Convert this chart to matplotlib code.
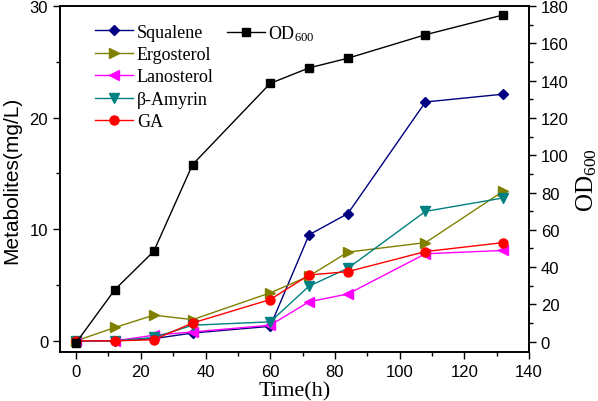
import numpy as np
import matplotlib
matplotlib.use('Agg')
import matplotlib.pyplot as plt
from matplotlib.ticker import MultipleLocator

matplotlib.rcParams['font.family'] = 'Liberation Sans'
matplotlib.rcParams['mathtext.fontset'] = 'custom'
matplotlib.rcParams['mathtext.rm'] = 'Liberation Serif'
matplotlib.rcParams['mathtext.it'] = 'Liberation Serif:italic'

time_h = [0, 12, 24, 36, 60, 72, 84, 108, 132]
squalene = [0, 0, 0.2, 0.7, 1.3, 9.5, 11.4, 21.4, 22.1]
ergosterol = [0, 1.2, 2.3, 1.9, 4.3, 5.8, 7.95, 8.8, 13.4]
lanosterol = [0, 0, 0.5, 0.8, 1.4, 3.5, 4.2, 7.8, 8.1]
amyrin = [0, 0, 0.3, 1.4, 1.7, 4.9, 6.5, 11.6, 12.8]
ga = [0, 0, 0.1, 1.6, 3.7, 5.9, 6.2, 8.0, 8.8]
od600 = [-0.5, 28, 48.5, 95, 138.5, 146.8, 152, 164.6, 175.2]

serif = 'Liberation Serif'

fig = plt.figure(figsize=(5.98, 4.02), dpi=100)
ax = fig.add_axes([0.1003, 0.1219, 0.7843, 0.8607])
ax2 = ax.twinx()

series = [
    (squalene, 'Squalene', '#000080', 'D', 5.5),
    (ergosterol, 'Ergosterol', '#808000', '>', 7),
    (lanosterol, 'Lanosterol', '#FF00FF', '<', 7),
    (amyrin, 'β-Amyrin', '#008080', 'v', 7),
    (ga, 'GA', '#FF0000', 'o', 6.5),
]
for vals, name, col, mk, ms in series:
    ax.plot(time_h, vals, '-', marker=mk, color=col, markersize=ms, linewidth=1, label=name)

ax2.plot(time_h, od600, '-s', color='black', markersize=5.5, linewidth=1, label='OD$_{600}$')

ax.set_xlim(-5, 140)
ax.set_ylim(-1, 30)
ax2.set_ylim(-5.5, 180)

ax.xaxis.set_major_locator(MultipleLocator(20))
ax.xaxis.set_minor_locator(MultipleLocator(10))
ax.yaxis.set_major_locator(MultipleLocator(10))
ax.yaxis.set_minor_locator(MultipleLocator(5))
ax2.yaxis.set_major_locator(MultipleLocator(20))
ax2.yaxis.set_minor_locator(MultipleLocator(10))

for a in (ax, ax2):
    a.tick_params(which='major', length=5, width=1, labelsize=12, direction='out')
    a.tick_params(which='minor', length=3, width=1, direction='out')
    for sp in a.spines.values():
        sp.set_linewidth(1.2)
ax.tick_params(top=False, right=False)

ax.set_xlabel('Time(h)', fontsize=16, fontfamily=serif, labelpad=2)
ax.set_ylabel('Metabolites(mg/L)', fontsize=15, labelpad=6)
ax2.set_ylabel('OD$_{600}$', fontsize=18, fontfamily=serif, labelpad=4)

leg1 = ax.legend(loc='upper left', bbox_to_anchor=(0.06, 0.97), frameon=False,
                 prop={'family': serif, 'size': 13}, handlelength=2.1,
                 labelspacing=0.3, handletextpad=0.2, borderaxespad=0)
leg2 = ax2.legend(loc='upper left', bbox_to_anchor=(0.34, 0.97), frameon=False,
                  prop={'family': serif, 'size': 13}, handlelength=2.1,
                  handletextpad=0.2, borderaxespad=0)

fig.savefig('out.png', dpi=100)
